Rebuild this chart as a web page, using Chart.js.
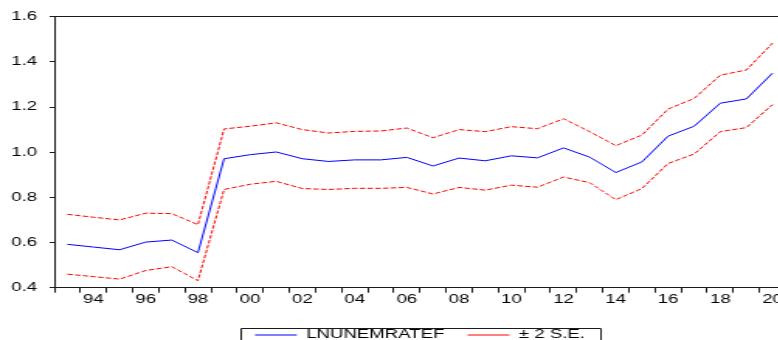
<!DOCTYPE html>
<html>
<head>
<meta charset="utf-8">
<script src="https://cdn.jsdelivr.net/npm/chart.js"></script>
<style>
  html, body { margin: 0; padding: 0; background: #fff; width: 778px; height: 340px; overflow: hidden; }
</style>
</head>
<body>
<!-- drawn at 510px wide and widened 1.55x horizontally, like the exported EViews graph -->
<canvas id="c" width="510" height="340" style="display:block;width:790.5px;height:340px;"></canvas>
<script>
// Annual observations, 1993-2020
const years = [1993, 1994, 1995, 1996, 1997, 1998, 1999, 2000, 2001, 2002, 2003, 2004, 2005, 2006,
               2007, 2008, 2009, 2010, 2011, 2012, 2013, 2014, 2015, 2016, 2017, 2018, 2019, 2020];

// Forecast of the log unemployment rate
const fitted = [0.592, 0.580, 0.568, 0.602, 0.611, 0.555, 0.971, 0.989, 1.001, 0.971, 0.959, 0.966, 0.966, 0.977,
                0.939, 0.974, 0.962, 0.984, 0.975, 1.019, 0.978, 0.910, 0.957, 1.071, 1.115, 1.217, 1.236, 1.350];

// Forecast + 2 standard errors
const upperBand = [0.725, 0.712, 0.700, 0.730, 0.728, 0.679, 1.103, 1.115, 1.130, 1.100, 1.085, 1.092, 1.094, 1.107,
                   1.064, 1.100, 1.091, 1.113, 1.104, 1.148, 1.091, 1.029, 1.076, 1.191, 1.238, 1.341, 1.364, 1.483];

// Forecast - 2 standard errors
const lowerBand = [0.460, 0.449, 0.438, 0.476, 0.493, 0.431, 0.835, 0.858, 0.871, 0.839, 0.835, 0.840, 0.840, 0.844,
                   0.815, 0.844, 0.832, 0.854, 0.845, 0.890, 0.865, 0.790, 0.839, 0.950, 0.992, 1.091, 1.109, 1.211];

// Year labels on the time axis
const tickYears  = [1994, 1996, 1998, 2000, 2002, 2004, 2006, 2008, 2010, 2012, 2014, 2016, 2018, 2020];
const tickLabels = ['94', '96', '98', '00', '02', '04', '06', '08', '10', '12', '14', '16', '18', '20'];

const seriesNames = ['LNUNEMRATEF', '\u00B1 2 S.E.'];

const FONT = "'Liberation Sans', Arial, sans-serif";
const INK = '#1a1a1a';

const toPoints = (vals) => vals.map((v, i) => ({ x: years[i], y: v }));

// Centres the legend under the plot area and frames it with a box
const legendFrame = {
  id: 'legendFrame',
  afterUpdate(chart) {
    const lg = chart.legend;
    const area = chart.chartArea;
    const pad = lg.options.labels.padding;
    // undo the offset the legend already applied, then lay the items out again
    lg.legendHitBoxes.forEach((h) => { h.top -= lg.top + pad; });
    lg.left = area.left;
    lg.right = area.right;
    lg.width = area.right - area.left;
    lg.adjustHitBoxes();
  },
  afterDraw(chart) {
    const hb = chart.legend.legendHitBoxes;
    if (!hb || !hb.length) return;
    const last = hb[hb.length - 1];
    const x0 = Math.round(hb[0].left - 9) + 0.5;
    const x1 = Math.round(last.left + last.width + 10) + 0.5;
    const y0 = Math.round(hb[0].top - 1.5) + 0.5;
    const ctx = chart.ctx;
    ctx.save();
    ctx.strokeStyle = INK;
    ctx.lineWidth = 1;
    ctx.beginPath();
    ctx.moveTo(x0, chart.height + 20);
    ctx.lineTo(x0, y0);
    ctx.lineTo(x1, y0);
    ctx.lineTo(x1, chart.height + 20);
    ctx.stroke();
    ctx.restore();
  }
};

new Chart(document.getElementById('c'), {
  type: 'line',
  data: {
    datasets: [
      {
        label: seriesNames[0],
        data: toPoints(fitted),
        borderColor: '#0000ff',
        borderWidth: 1,
        pointRadius: 0,
        tension: 0
      },
      {
        label: seriesNames[1],
        data: toPoints(upperBand),
        borderColor: '#ff0000',
        borderWidth: 1,
        borderDash: [3.5, 1.5],
        pointRadius: 0,
        tension: 0
      },
      {
        label: seriesNames[1],
        data: toPoints(lowerBand),
        borderColor: '#ff0000',
        borderWidth: 1,
        borderDash: [3.5, 1.5],
        pointRadius: 0,
        tension: 0
      }
    ]
  },
  options: {
    responsive: false,
    animation: false,
    devicePixelRatio: 1,
    layout: { padding: { left: 0, right: 3.5, top: 16.7, bottom: -11 } },
    scales: {
      x: {
        type: 'linear',
        position: 'bottom',
        min: 1992.5,
        max: 2020.5,
        afterFit: (s) => { s.height = 26.3; },
        border: { display: true, color: INK, width: 1 },
        grid: {
          drawOnChartArea: false,
          drawTicks: true,
          tickLength: 5,
          tickWidth: 1,
          tickColor: (ctx) => (ctx.tick && Number.isInteger(ctx.tick.value)) ? 'rgba(0,0,0,0)' : INK
        },
        ticks: {
          stepSize: 0.5,
          autoSkip: false,
          maxRotation: 0,
          padding: 0,
          color: '#000',
          font: { family: FONT, size: 12 },
          callback: (v) => {
            const i = tickYears.indexOf(v);
            return i >= 0 ? tickLabels[i] : '';
          }
        }
      },
      xTop: {
        type: 'linear',
        position: 'top',
        min: 1992.5,
        max: 2020.5,
        border: { display: true, color: INK, width: 1 },
        grid: { drawOnChartArea: false, drawTicks: false },
        ticks: { display: false }
      },
      y: {
        type: 'linear',
        position: 'left',
        min: 0.4,
        max: 1.6,
        afterFit: (s) => { s.width = 35; },
        border: { display: true, color: INK, width: 1 },
        grid: { drawOnChartArea: false, tickLength: 3, tickColor: INK },
        ticks: {
          stepSize: 0.2,
          padding: 8,
          color: '#000',
          font: { family: FONT, size: 12 },
          callback: (v) => Number(v).toFixed(1)
        }
      }
    },
    plugins: {
      tooltip: { enabled: false },
      legend: {
        display: true,
        position: 'bottom',
        labels: {
          usePointStyle: true,
          pointStyle: 'line',
          pointStyleWidth: 27,
          padding: 15,
          color: '#000',
          font: { family: FONT, size: 12 },
          filter: (item) => item.datasetIndex !== 2
        }
      }
    }
  },
  plugins: [legendFrame]
});
</script>
</body>
</html>
